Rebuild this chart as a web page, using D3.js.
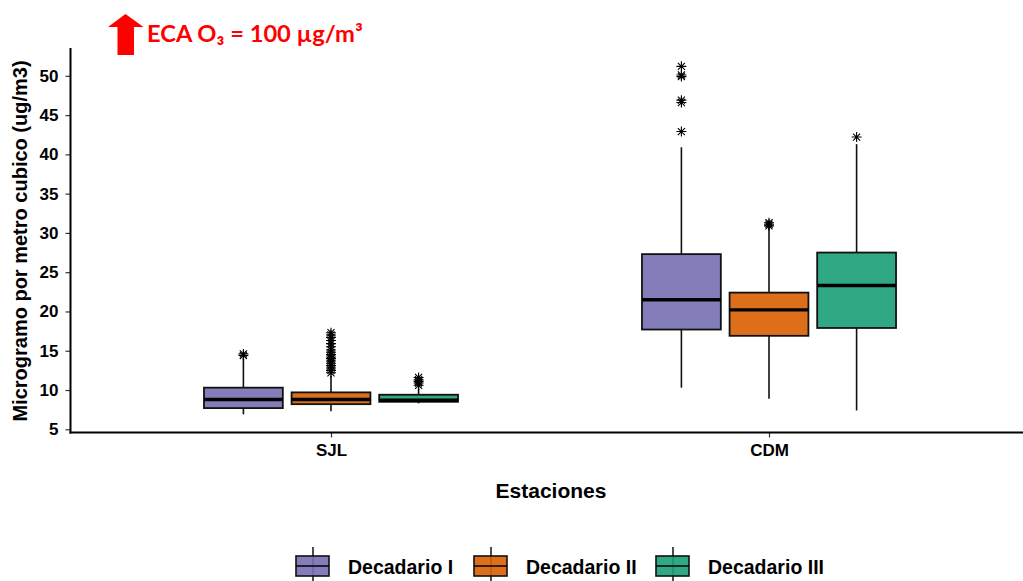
<!DOCTYPE html>
<html>
<head>
<meta charset="utf-8">
<script src="https://cdn.jsdelivr.net/npm/d3@7"></script>
<style>
  html, body { margin: 0; padding: 0; background: #fff; }
  svg { display: block; }
</style>
</head>
<body>
<svg id="chart" width="1023" height="581"></svg>
<script>
// ---------- data ----------
const stations = ["SJL", "CDM"];
const groups = ["Decadario I", "Decadario II", "Decadario III"];
const groupColors = ["#7570B3", "#D95F02", "#1B9E77"];
const yTicks = [5, 10, 15, 20, 25, 30, 35, 40, 45, 50];

// [lower whisker, Q1, median, Q3, upper whisker] per station (SJL, CDM)
const decadarioI   = [[6.9, 7.7, 8.8, 10.3, 14.0], [10.3, 17.7, 21.5, 27.3, 40.9]];
const decadarioII  = [[7.3, 8.2, 8.8, 9.7, 11.8], [8.9, 16.9, 20.2, 22.4, 30.8]];
const decadarioIII = [[8.3, 8.5, 8.7, 9.4, 10.2], [7.4, 17.9, 23.3, 27.5, 41.3]];

// outliers per station (SJL, CDM)
const outliersI   = [[14.4, 14.6], [42.9, 46.6, 46.9, 49.9, 50.1, 51.2]];
const outliersII  = [[12.2, 12.5, 12.8, 13.1, 13.4, 13.7, 14.0, 14.2, 14.5, 14.8, 15.1, 15.5, 15.9, 16.3, 16.7, 17.0, 17.3],
                     [30.9, 31.1, 31.3]];
const outliersIII = [[10.6, 10.9, 11.1, 11.3, 11.6], [42.2]];

const titleText = "ECA O\u2083 = 100 \u00b5g/m\u00b3";
const xTitle = "Estaciones";
const yTitle = "Microgramo por metro cubico (ug/m3)";

// ---------- build ----------
const stats = [decadarioI, decadarioII, decadarioIII];
const outs = [outliersI, outliersII, outliersIII];
const boxes = [];
const points = [];
stations.forEach((s, si) => {
  groups.forEach((g, gi) => {
    const [lo, q1, med, q3, hi] = stats[gi][si];
    boxes.push({ s, si, gi, lo, q1, med, q3, hi });
    outs[gi][si].forEach(v => points.push({ s, si, gi, v }));
  });
});

const svg = d3.select("#chart");
const font = "'Liberation Sans', Arial, sans-serif";

const x = d3.scaleLinear().domain([1, 2]).range([331, 769]);
const unit = x(2) - x(1);
const y = d3.scaleLinear().domain([5, 50]).range([429.3, 75.8]);
const axisLeftX = 70.5, axisBottomY = 432.5, axisTopY = 48, axisRightX = 1023;

const dodge = 0.2, boxW = 0.18 * unit;
const cx = d => x(d.si + 1) + (d.gi - 1) * dodge * unit;

const plot = svg.append("g");

// whiskers (outside the box only)
plot.selectAll("line.whu").data(boxes).join("line")
  .attr("x1", cx).attr("x2", cx)
  .attr("y1", d => y(d.q3)).attr("y2", d => y(d.hi))
  .attr("stroke", "#111").attr("stroke-width", 1.6);
plot.selectAll("line.whl").data(boxes).join("line")
  .attr("x1", cx).attr("x2", cx)
  .attr("y1", d => y(d.q1)).attr("y2", d => y(d.lo))
  .attr("stroke", "#111").attr("stroke-width", 1.6);

// boxes
plot.selectAll("rect.box").data(boxes).join("rect")
  .attr("x", d => cx(d) - boxW / 2)
  .attr("width", boxW)
  .attr("y", d => y(d.q3))
  .attr("height", d => y(d.q1) - y(d.q3))
  .attr("fill", d => groupColors[d.gi]).attr("fill-opacity", 0.9)
  .attr("stroke", "#111").attr("stroke-width", 1.8);

// medians
plot.selectAll("line.med").data(boxes).join("line")
  .attr("x1", d => cx(d) - boxW / 2).attr("x2", d => cx(d) + boxW / 2)
  .attr("y1", d => y(d.med)).attr("y2", d => y(d.med))
  .attr("stroke", "#000").attr("stroke-width", 3.4);

// outliers (asterisk)
const r = 5;
const ast = `M${-r},0L${r},0M0,${-r}L0,${r}M${-r*0.71},${-r*0.71}L${r*0.71},${r*0.71}M${-r*0.71},${r*0.71}L${r*0.71},${-r*0.71}`;
plot.selectAll("path.out").data(points).join("path")
  .attr("d", ast)
  .attr("transform", d => `translate(${cx(d)},${y(d.v)})`)
  .attr("fill", "none").attr("stroke", "#000").attr("stroke-width", 1.1);

// axes
const yAxis = d3.axisLeft(y).tickValues(yTicks).tickSize(5).tickPadding(7);
const gy = svg.append("g").attr("transform", `translate(${axisLeftX},0)`).call(yAxis);
gy.select(".domain").remove();
gy.selectAll(".tick line").attr("stroke", "#333").attr("stroke-width", 1.2);
gy.selectAll(".tick text").attr("font-family", font).attr("font-weight", "bold")
  .attr("font-size", "17px").attr("fill", "#000");

const xAxis = d3.axisBottom(x).tickValues([1, 2]).tickFormat(d => stations[d - 1]).tickSize(5).tickPadding(6.5);
const gx = svg.append("g").attr("transform", `translate(0,${axisBottomY})`).call(xAxis);
gx.select(".domain").remove();
gx.selectAll(".tick line").attr("stroke", "#333").attr("stroke-width", 1.2);
gx.selectAll(".tick text").attr("font-family", font).attr("font-weight", "bold")
  .attr("font-size", "17px").attr("fill", "#000");

svg.append("line").attr("x1", axisLeftX).attr("x2", axisLeftX)
  .attr("y1", axisTopY).attr("y2", axisBottomY + 1)
  .attr("stroke", "#000").attr("stroke-width", 2);
svg.append("line").attr("x1", axisLeftX - 1).attr("x2", axisRightX)
  .attr("y1", axisBottomY).attr("y2", axisBottomY)
  .attr("stroke", "#000").attr("stroke-width", 2);

// axis titles
svg.append("text").attr("x", 551).attr("y", 498).attr("text-anchor", "middle")
  .attr("font-family", font).attr("font-weight", "bold").attr("font-size", "21px")
  .text(xTitle);
svg.append("text").attr("transform", "translate(27,241) rotate(-90)").attr("text-anchor", "middle")
  .attr("font-family", font).attr("font-weight", "bold").attr("font-size", "20px")
  .text(yTitle);

// red arrow + title
svg.append("path")
  .attr("d", "M125.5,14 L143.5,27 L134,27 L134,55 L117.5,55 L117.5,27 L108,27 Z")
  .attr("fill", "#ff0000");
const tt = svg.append("text").attr("x", 147).attr("y", 42)
  .attr("font-family", "Lato, 'Open Sans', sans-serif").attr("font-weight", "bold")
  .attr("font-size", "24px").attr("fill", "#ff0000").text(titleText);
const tw = tt.node().getComputedTextLength();
tt.attr("font-size", (24 * 216 / tw).toFixed(2) + "px");

// legend
const legX = [296, 474, 656];
const leg = svg.append("g");
groups.forEach((g, i) => {
  const gg = leg.append("g").attr("transform", `translate(${legX[i]},0)`);
  gg.append("line").attr("x1", 17).attr("x2", 17).attr("y1", 547).attr("y2", 581)
    .attr("stroke", "#000").attr("stroke-width", 1.4);
  gg.append("rect").attr("x", 0).attr("y", 556).attr("width", 33).attr("height", 20)
    .attr("fill", groupColors[i]).attr("fill-opacity", 0.9)
    .attr("stroke", "#111").attr("stroke-width", 1.6);
  gg.append("line").attr("x1", 0).attr("x2", 33).attr("y1", 566).attr("y2", 566)
    .attr("stroke", "#000").attr("stroke-width", 1.6);
  gg.append("text").attr("x", 52).attr("y", 573.5)
    .attr("font-family", font).attr("font-weight", "bold").attr("font-size", "19.5px")
    .text(g);
});
</script>
</body>
</html>
